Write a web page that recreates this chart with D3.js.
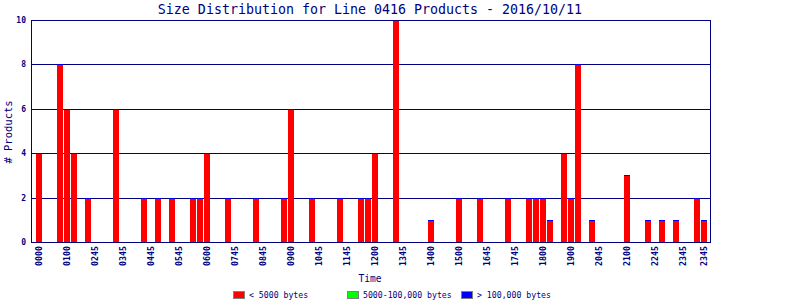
<!DOCTYPE html>
<html>
<head>
<meta charset="utf-8">
<script src="https://cdn.jsdelivr.net/npm/d3@7"></script>
<style>
  body { margin: 0; background: #fff; }
  svg { display: block; }
  text { font-family: "DejaVu Sans Mono", "Liberation Mono", monospace; fill: #000080; }
</style>
</head>
<body>
<script>
// product counts per time slot (96 slots), all in the "< 5000 bytes" class
const smallCounts = [
    4, 0, 0, 8, 6, 4, 0, 2, 0, 0, 0, 6,
    0, 0, 0, 2, 0, 2, 0, 2, 0, 0, 2, 2,
    4, 0, 0, 2, 0, 0, 0, 2, 0, 0, 0, 2,
    6, 0, 0, 2, 0, 0, 0, 2, 0, 0, 2, 2,
    4, 0, 0, 10, 0, 0, 0, 0, 1, 0, 0, 0,
    2, 0, 0, 2, 0, 0, 0, 2, 0, 0, 2, 2,
    2, 1, 0, 4, 2, 8, 0, 1, 0, 0, 0, 0,
    3, 0, 0, 1, 0, 1, 0, 1, 0, 0, 2, 1
];
const mediumCounts = smallCounts.map(() => 0);
const largeCounts = smallCounts.map(() => 0);

const tickSlots = [0, 4, 8, 12, 16, 20, 24, 28, 32, 36, 40, 44, 48, 52, 56, 60, 64, 68, 72, 76, 80, 84, 88, 92, 95];
const tickLabels = ["0000", "0100", "0245", "0345", "0445", "0545", "0600", "0745", "0845", "0900",
    "1045", "1145", "1200", "1345", "1400", "1500", "1645", "1745", "1800", "1900",
    "2045", "2100", "2245", "2345", "2345"];
const yTicks = [0, 2, 4, 6, 8, 10];

const seriesNames = ["< 5000 bytes", "5000-100,000 bytes", "> 100,000 bytes"];
const seriesColors = ["#ff0000", "#00ff00", "#0000ff"];

const width = 800, height = 300;
const navy = "#000080";

const svg = d3.select("body").append("svg")
    .attr("width", width)
    .attr("height", height);

const x = d3.scaleBand()
    .domain(d3.range(smallCounts.length))
    .range([36, 708]);

const y = d3.scaleLinear()
    .domain([0, 10])
    .range([242, 20]);

// title
svg.append("text")
    .attr("x", 370)
    .attr("y", 13.5)
    .attr("text-anchor", "middle")
    .style("font-size", "13.3px")
    .text("Size Distribution for Line 0416 Products - 2016/10/11");

// gridlines
svg.append("g")
    .selectAll("line")
    .data(yTicks)
    .enter()
    .append("line")
    .attr("x1", 31)
    .attr("x2", 711)
    .attr("y1", d => Math.round(y(d)) + 0.5)
    .attr("y2", d => Math.round(y(d)) + 0.5)
    .attr("stroke", navy)
    .attr("shape-rendering", "crispEdges");

// y tick labels
svg.append("g")
    .selectAll("text")
    .data(yTicks)
    .enter()
    .append("text")
    .attr("x", 26)
    .attr("y", d => Math.round(y(d)) + 3)
    .attr("text-anchor", "end")
    .style("font-size", "8px")
    .style("font-weight", "bold")
    .text(d => d);

// stacked bars
const rows = smallCounts.map((d, i) => ({ slot: i, small: d, medium: mediumCounts[i], large: largeCounts[i] }));
const stack = d3.stack().keys(["small", "medium", "large"]);
const layers = stack(rows);

layers.forEach((layer, k) => {
    svg.append("g")
        .selectAll("rect")
        .data(layer.filter(d => d.data.small + d.data.medium + d.data.large > 0))
        .enter()
        .append("rect")
        .attr("x", d => x(d.data.slot))
        .attr("width", x.bandwidth() - 1)
        .attr("y", d => Math.round(y(d[1])))
        .attr("height", d => Math.max(k === 2 ? 1 : 0, Math.round(y(d[0])) - Math.round(y(d[1]))))
        .attr("fill", seriesColors[k])
        .attr("shape-rendering", "crispEdges");
});

// frame
svg.append("rect")
    .attr("x", 31.5)
    .attr("y", 20.5)
    .attr("width", 679)
    .attr("height", 222)
    .attr("fill", "none")
    .attr("stroke", navy)
    .attr("shape-rendering", "crispEdges");

// x tick labels
svg.append("g")
    .selectAll("text")
    .data(tickSlots)
    .enter()
    .append("text")
    .attr("transform", d => "translate(" + (x(d) + 6) + ",246) rotate(-90)")
    .attr("text-anchor", "end")
    .style("font-size", "8.3px")
    .style("font-weight", "bold")
    .text((d, i) => tickLabels[i]);

// axis titles
svg.append("text")
    .attr("x", 370)
    .attr("y", 282)
    .attr("text-anchor", "middle")
    .style("font-size", "9.6px")
    .text("Time");

svg.append("text")
    .attr("transform", "translate(12,132) rotate(-90)")
    .attr("text-anchor", "middle")
    .style("font-size", "10.5px")
    .text("# Products");

// legend
const legendX = [233, 347, 461];
const legend = svg.selectAll(".legend")
    .data(seriesNames)
    .enter()
    .append("g")
    .attr("class", "legend")
    .attr("transform", (d, i) => "translate(" + legendX[i] + ",291)");

legend.append("rect")
    .attr("x", 0.5)
    .attr("y", 0.5)
    .attr("width", 11)
    .attr("height", 7)
    .attr("fill", (d, i) => seriesColors[i])
    .attr("stroke", "#808080")
    .attr("shape-rendering", "crispEdges");

legend.append("text")
    .attr("x", 16)
    .attr("y", 7)
    .style("font-size", "8.2px")
    .text(d => d);
</script>
</body>
</html>
